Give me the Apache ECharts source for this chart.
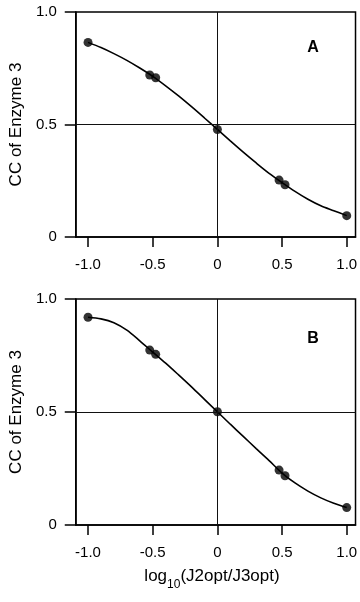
<!DOCTYPE html>
<html>
<head>
<meta charset="utf-8">
<script src="https://cdn.jsdelivr.net/npm/echarts@6/dist/echarts.min.js"></script>
<style>
html,body{margin:0;padding:0;background:#fff;}
#chart{width:360px;height:602px;}
</style>
</head>
<body>
<div id="chart"></div>
<script>
// ---- data ----
const xTicks = [-1, -0.5, 0, 0.5, 1];
const pointsX = [-1, -0.523, -0.477, 0, 0.477, 0.523, 1];
const pointsA = [0.865, 0.720, 0.708, 0.478, 0.253, 0.232, 0.095];
const pointsB = [0.919, 0.774, 0.755, 0.501, 0.243, 0.218, 0.077];
const curveX = [-1.0, -0.9, -0.8, -0.7, -0.6, -0.5, -0.4, -0.3, -0.2, -0.1, 0.0, 0.1, 0.2, 0.3, 0.4, 0.5, 0.6, 0.7, 0.8, 0.9, 1.0];
const curveA = [0.865, 0.842, 0.815, 0.785, 0.751, 0.714, 0.672, 0.627, 0.579, 0.529, 0.478, 0.427, 0.377, 0.329, 0.283, 0.242, 0.203, 0.168, 0.139, 0.117, 0.095];
const curveB = [0.919, 0.912, 0.895, 0.862, 0.815, 0.765, 0.716, 0.664, 0.611, 0.556, 0.501, 0.446, 0.392, 0.338, 0.285, 0.230, 0.186, 0.150, 0.120, 0.096, 0.077];
const panelLabels = ['A', 'B'];
const yName = 'CC of Enzyme 3';
const xTitle = '{a|log}{s|10}{a|(J2opt/J3opt)}';

const zip = (xs, ys) => xs.map((x, i) => [x, ys[i]]);
const fmt = v => (Math.abs(v) < 1e-9 ? '0' : v.toFixed(1));
const FONT = '"Liberation Sans", Arial, Helvetica, sans-serif';

const chart = echarts.init(document.getElementById('chart'));

const grids = [
  {left: 71, top: 12, width: 286, height: 225},
  {left: 71, top: 299, width: 286, height: 226}
];

function xAxis(i) {
  return {
    type: 'value', gridIndex: i, min: -1.095, max: 1.068,
    axisLine: {show: true, onZero: false, lineStyle: {color: '#000', width: 1.5}},
    axisTick: {show: true, length: 10, customValues: xTicks, lineStyle: {color: '#000', width: 1.5}},
    axisLabel: {show: true, customValues: xTicks, formatter: fmt, margin: 20, color: '#000', fontSize: 15, fontFamily: FONT},
    splitLine: {show: false}
  };
}
function yAxis(i) {
  return {
    type: 'value', gridIndex: i, min: 0, max: 1, interval: 0.5,
    name: yName, nameLocation: 'middle', nameGap: 50,
    nameTextStyle: {fontSize: 17, fontFamily: FONT, color: '#000'},
    axisLine: {show: true, onZero: false, lineStyle: {color: '#000', width: 1.5}},
    axisTick: {show: true, length: 11, lineStyle: {color: '#000', width: 1.5}},
    axisLabel: {formatter: fmt, margin: 19, color: '#000', fontSize: 15, fontFamily: FONT},
    splitLine: {show: false}
  };
}

const series = [];
[curveA, curveB].forEach((c, i) => {
  series.push({
    type: 'line', xAxisIndex: i, yAxisIndex: i, data: zip(curveX, c),
    smooth: 0.3, showSymbol: false, symbol: 'none',
    lineStyle: {color: '#000', width: 1.6}, z: 3,
    markLine: {
      silent: true, symbol: 'none', label: {show: false},
      lineStyle: {color: '#111', width: 1, type: 'solid'},
      data: [{xAxis: 0}, {yAxis: 0.5}]
    }
  });
});
[pointsA, pointsB].forEach((p, i) => {
  series.push({
    type: 'scatter', xAxisIndex: i, yAxisIndex: i, data: zip(pointsX, p),
    symbol: 'circle', symbolSize: 9, itemStyle: {color: '#000'}, z: 4
  });
});

chart.setOption({
  animation: false,
  backgroundColor: '#fff',
  grid: grids.map(g => Object.assign({show: true, borderColor: '#000', borderWidth: 1.5, backgroundColor: 'transparent'}, g)),
  xAxis: [xAxis(0), xAxis(1)],
  yAxis: [yAxis(0), yAxis(1)],
  series: series,
  graphic: [
    {type: 'text', x: 313, y: 48, style: {text: panelLabels[0], fontSize: 16, fontWeight: 'bold', fontFamily: FONT, fill: '#000', align: 'center', verticalAlign: 'middle'}},
    {type: 'text', x: 313, y: 339, style: {text: panelLabels[1], fontSize: 16, fontWeight: 'bold', fontFamily: FONT, fill: '#000', align: 'center', verticalAlign: 'middle'}},
    {type: 'text', x: 212, y: 568, style: {
      text: xTitle, align: 'center', verticalAlign: 'top', fill: '#000',
      rich: {
        a: {fontSize: 17, fontFamily: FONT, fill: '#000', lineHeight: 20, verticalAlign: 'top'},
        s: {fontSize: 12, fontFamily: FONT, fill: '#000', lineHeight: 12, padding: [11, 0, 0, 0], verticalAlign: 'top'}
      }
    }}
  ]
});
</script>
</body>
</html>
